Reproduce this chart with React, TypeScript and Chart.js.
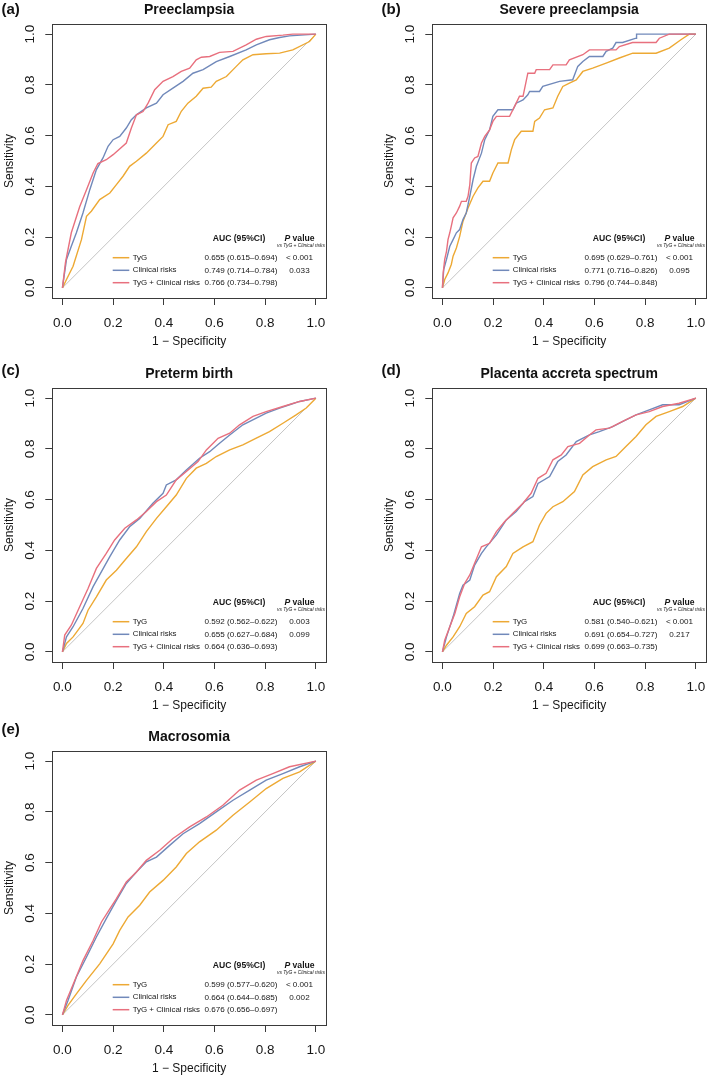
import { useEffect, useRef } from 'react';
import { Chart, registerables } from 'chart.js';

Chart.register(...registerables);

const FONT = '"Liberation Sans", Arial, Helvetica, sans-serif';
const TEXT = '#161616';

const AXIS_TICKS = [0, 0.2, 0.4, 0.6, 0.8, 1.0];
const SERIES_NAMES = ['TyG', 'Clinical risks', 'TyG + Clinical risks'];
const SERIES_COLORS = ['#EDA934', '#7189BA', '#E8707E'];
const X_TITLE = '1 \u2212 Specificity';
const Y_TITLE = 'Sensitivity';
const AUC_HEADER = 'AUC (95%CI)';
const P_SUB = 'vs TyG + Clinical risks';

const PANEL_LETTERS = ['(a)', '(b)', '(c)', '(d)', '(e)'];
const PANEL_TITLES = ['Preeclampsia', 'Severe preeclampsia', 'Preterm birth', 'Placenta accreta spectrum', 'Macrosomia'];

// ---- (a) Preeclampsia ----
const A_TYG_X = [0, 0.016, 0.042, 0.075, 0.095, 0.114, 0.147, 0.187, 0.213, 0.239, 0.265, 0.292, 0.331, 0.371, 0.397, 0.417, 0.449, 0.469, 0.495, 0.528, 0.555, 0.587, 0.607, 0.647, 0.686, 0.712, 0.752, 0.804, 0.857, 0.909, 0.975, 1];
const A_TYG_Y = [0, 0.033, 0.085, 0.19, 0.282, 0.302, 0.348, 0.374, 0.407, 0.44, 0.479, 0.499, 0.531, 0.571, 0.597, 0.643, 0.656, 0.696, 0.728, 0.755, 0.787, 0.791, 0.814, 0.833, 0.873, 0.899, 0.919, 0.923, 0.925, 0.938, 0.971, 1];
const A_CLIN_X = [0, 0.016, 0.035, 0.055, 0.081, 0.108, 0.134, 0.16, 0.18, 0.2, 0.226, 0.252, 0.272, 0.292, 0.331, 0.371, 0.397, 0.436, 0.476, 0.515, 0.555, 0.607, 0.66, 0.725, 0.765, 0.817, 0.857, 0.896, 1];
const A_CLIN_Y = [0, 0.112, 0.164, 0.217, 0.295, 0.387, 0.466, 0.512, 0.558, 0.584, 0.597, 0.63, 0.663, 0.682, 0.709, 0.728, 0.761, 0.787, 0.814, 0.846, 0.86, 0.892, 0.912, 0.938, 0.958, 0.978, 0.987, 0.993, 1];
const A_COMB_X = [0, 0.012, 0.035, 0.068, 0.095, 0.121, 0.14, 0.173, 0.2, 0.252, 0.272, 0.292, 0.318, 0.338, 0.364, 0.397, 0.436, 0.469, 0.502, 0.528, 0.548, 0.581, 0.62, 0.673, 0.725, 0.765, 0.804, 0.87, 0.909, 1];
const A_COMB_Y = [0, 0.1, 0.217, 0.32, 0.387, 0.453, 0.49, 0.505, 0.525, 0.571, 0.63, 0.682, 0.695, 0.728, 0.781, 0.814, 0.833, 0.853, 0.866, 0.899, 0.909, 0.912, 0.928, 0.932, 0.958, 0.98, 0.991, 0.996, 1, 1];
const A_AUC = ['0.655 (0.615\u20130.694)', '0.749 (0.714\u20130.784)', '0.766 (0.734\u20130.798)'];
const A_P = ['< 0.001', '0.033', ''];

// ---- (b) Severe preeclampsia ----
const B_TYG_X = [0, 0.009, 0.022, 0.035, 0.042, 0.055, 0.068, 0.081, 0.101, 0.121, 0.14, 0.16, 0.186, 0.199, 0.219, 0.259, 0.272, 0.285, 0.311, 0.357, 0.364, 0.383, 0.403, 0.436, 0.455, 0.475, 0.501, 0.528, 0.554, 0.593, 0.646, 0.698, 0.751, 0.843, 0.895, 0.941, 0.974, 1];
const B_TYG_Y = [0, 0.033, 0.059, 0.092, 0.125, 0.157, 0.203, 0.262, 0.315, 0.361, 0.394, 0.42, 0.42, 0.453, 0.492, 0.492, 0.545, 0.584, 0.617, 0.617, 0.656, 0.669, 0.702, 0.709, 0.755, 0.794, 0.807, 0.82, 0.853, 0.866, 0.886, 0.906, 0.925, 0.925, 0.945, 0.978, 1, 1];
const B_CLIN_X = [0, 0.005, 0.016, 0.029, 0.042, 0.055, 0.068, 0.081, 0.094, 0.108, 0.121, 0.134, 0.154, 0.167, 0.186, 0.199, 0.219, 0.278, 0.291, 0.318, 0.337, 0.344, 0.383, 0.396, 0.462, 0.514, 0.534, 0.554, 0.58, 0.633, 0.646, 0.672, 0.685, 0.711, 0.764, 0.766, 1];
const B_CLIN_Y = [0, 0.072, 0.112, 0.164, 0.19, 0.217, 0.23, 0.269, 0.295, 0.361, 0.427, 0.479, 0.531, 0.584, 0.623, 0.676, 0.702, 0.702, 0.728, 0.741, 0.761, 0.774, 0.774, 0.794, 0.814, 0.82, 0.873, 0.892, 0.912, 0.912, 0.932, 0.945, 0.967, 0.967, 0.984, 1, 1];
const B_COMB_X = [0, 0.003, 0.009, 0.016, 0.022, 0.029, 0.035, 0.042, 0.055, 0.068, 0.075, 0.094, 0.101, 0.108, 0.114, 0.127, 0.14, 0.154, 0.167, 0.186, 0.199, 0.213, 0.265, 0.278, 0.291, 0.304, 0.318, 0.337, 0.364, 0.37, 0.423, 0.436, 0.488, 0.501, 0.554, 0.58, 0.685, 0.698, 0.75, 0.843, 0.856, 0.895, 1];
const B_COMB_Y = [0, 0.059, 0.112, 0.144, 0.19, 0.217, 0.243, 0.276, 0.295, 0.322, 0.341, 0.341, 0.361, 0.407, 0.492, 0.512, 0.518, 0.571, 0.597, 0.623, 0.656, 0.676, 0.676, 0.702, 0.728, 0.755, 0.755, 0.846, 0.846, 0.86, 0.86, 0.879, 0.879, 0.899, 0.919, 0.938, 0.938, 0.951, 0.967, 0.967, 0.984, 1, 1];
const B_AUC = ['0.695 (0.629\u20130.761)', '0.771 (0.716\u20130.826)', '0.796 (0.744\u20130.848)'];
const B_P = ['< 0.001', '0.095', ''];

// ---- (c) Preterm birth ----
const C_TYG_X = [0, 0.016, 0.042, 0.081, 0.101, 0.134, 0.173, 0.213, 0.252, 0.292, 0.331, 0.371, 0.41, 0.449, 0.489, 0.528, 0.568, 0.607, 0.66, 0.712, 0.765, 0.817, 0.87, 0.922, 0.962, 1];
const C_TYG_Y = [0, 0.033, 0.059, 0.112, 0.164, 0.217, 0.283, 0.322, 0.368, 0.414, 0.474, 0.526, 0.572, 0.618, 0.684, 0.724, 0.743, 0.77, 0.796, 0.816, 0.842, 0.868, 0.901, 0.934, 0.961, 1];
const C_CLIN_X = [0, 0.016, 0.042, 0.081, 0.121, 0.154, 0.187, 0.226, 0.265, 0.305, 0.357, 0.397, 0.41, 0.449, 0.489, 0.541, 0.581, 0.62, 0.66, 0.712, 0.765, 0.804, 0.857, 0.896, 0.936, 1];
const C_CLIN_Y = [0, 0.059, 0.099, 0.171, 0.257, 0.316, 0.375, 0.441, 0.493, 0.526, 0.586, 0.625, 0.658, 0.678, 0.717, 0.763, 0.789, 0.822, 0.855, 0.895, 0.921, 0.941, 0.961, 0.974, 0.987, 1];
const C_COMB_X = [0, 0.009, 0.035, 0.068, 0.101, 0.134, 0.173, 0.206, 0.246, 0.292, 0.331, 0.371, 0.41, 0.449, 0.489, 0.535, 0.568, 0.614, 0.66, 0.699, 0.752, 0.804, 0.87, 0.936, 1];
const C_COMB_Y = [0, 0.066, 0.105, 0.178, 0.25, 0.329, 0.388, 0.441, 0.487, 0.52, 0.553, 0.592, 0.618, 0.678, 0.711, 0.75, 0.796, 0.842, 0.862, 0.895, 0.928, 0.947, 0.967, 0.987, 1];
const C_AUC = ['0.592 (0.562\u20130.622)', '0.655 (0.627\u20130.684)', '0.664 (0.636\u20130.693)'];
const C_P = ['0.003', '0.099', ''];

// ---- (d) Placenta accreta spectrum ----
const D_TYG_X = [0, 0.016, 0.042, 0.068, 0.094, 0.127, 0.16, 0.186, 0.213, 0.252, 0.278, 0.318, 0.357, 0.383, 0.409, 0.436, 0.475, 0.521, 0.554, 0.593, 0.646, 0.685, 0.724, 0.764, 0.803, 0.843, 0.895, 0.948, 1];
const D_TYG_Y = [0, 0.026, 0.059, 0.099, 0.151, 0.178, 0.224, 0.237, 0.296, 0.336, 0.388, 0.414, 0.434, 0.5, 0.546, 0.572, 0.592, 0.632, 0.697, 0.73, 0.757, 0.77, 0.809, 0.849, 0.895, 0.928, 0.947, 0.967, 1];
const D_CLIN_X = [0, 0.016, 0.042, 0.068, 0.081, 0.108, 0.127, 0.154, 0.173, 0.213, 0.252, 0.291, 0.324, 0.357, 0.377, 0.423, 0.455, 0.488, 0.528, 0.58, 0.619, 0.672, 0.724, 0.764, 0.816, 0.869, 0.934, 1];
const D_CLIN_Y = [0, 0.059, 0.138, 0.23, 0.263, 0.283, 0.342, 0.388, 0.414, 0.461, 0.52, 0.553, 0.592, 0.612, 0.664, 0.691, 0.75, 0.776, 0.829, 0.855, 0.868, 0.888, 0.914, 0.934, 0.954, 0.974, 0.974, 1];
const D_COMB_X = [0, 0.009, 0.029, 0.049, 0.068, 0.088, 0.108, 0.127, 0.154, 0.186, 0.213, 0.245, 0.278, 0.318, 0.35, 0.377, 0.409, 0.436, 0.469, 0.495, 0.541, 0.58, 0.606, 0.659, 0.711, 0.764, 0.816, 0.869, 0.934, 1];
const D_COMB_Y = [0, 0.046, 0.099, 0.151, 0.217, 0.27, 0.303, 0.349, 0.414, 0.428, 0.474, 0.513, 0.546, 0.586, 0.625, 0.684, 0.704, 0.757, 0.776, 0.809, 0.822, 0.855, 0.875, 0.882, 0.908, 0.934, 0.947, 0.967, 0.98, 1];
const D_AUC = ['0.581 (0.540\u20130.621)', '0.691 (0.654\u20130.727)', '0.699 (0.663\u20130.735)'];
const D_P = ['< 0.001', '0.217', ''];

// ---- (e) Macrosomia ----
const E_TYG_X = [0, 0.022, 0.055, 0.095, 0.147, 0.2, 0.226, 0.259, 0.305, 0.344, 0.397, 0.449, 0.489, 0.541, 0.607, 0.673, 0.739, 0.804, 0.87, 0.936, 1];
const E_TYG_Y = [0, 0.037, 0.083, 0.136, 0.201, 0.28, 0.333, 0.386, 0.432, 0.484, 0.53, 0.583, 0.636, 0.682, 0.728, 0.787, 0.839, 0.892, 0.932, 0.958, 1];
const E_CLIN_X = [0, 0.022, 0.055, 0.095, 0.134, 0.173, 0.213, 0.252, 0.292, 0.331, 0.371, 0.423, 0.476, 0.541, 0.607, 0.673, 0.739, 0.804, 0.87, 0.936, 1];
const E_CLIN_Y = [0, 0.057, 0.149, 0.228, 0.307, 0.379, 0.451, 0.518, 0.563, 0.603, 0.622, 0.668, 0.714, 0.754, 0.8, 0.846, 0.886, 0.925, 0.951, 0.978, 1];
const E_COMB_X = [0, 0.016, 0.049, 0.081, 0.121, 0.154, 0.187, 0.213, 0.252, 0.292, 0.331, 0.384, 0.436, 0.502, 0.568, 0.633, 0.699, 0.765, 0.83, 0.896, 1];
const E_COMB_Y = [0, 0.057, 0.136, 0.214, 0.293, 0.366, 0.418, 0.458, 0.524, 0.563, 0.609, 0.649, 0.695, 0.741, 0.78, 0.826, 0.886, 0.925, 0.951, 0.978, 1];
const E_AUC = ['0.599 (0.577\u20130.620)', '0.664 (0.644\u20130.685)', '0.676 (0.656\u20130.697)'];
const E_P = ['< 0.001', '0.002', ''];

// layout (pixels) of each panel canvas on the page
const CANVAS_W = 329;
const CANVAS_H = 362;
const TOP_PAD = 34;
const PANEL_POS = [
  { left: 0, top: -10, letterY: 20.3 },
  { left: 380, top: -10, letterY: 20.3 },
  { left: 0, top: 354, letterY: 17 },
  { left: 380, top: 354, letterY: 17 },
  { left: 0, top: 717, letterY: 13 },
];

const PANELS = [
  { curves: [[A_TYG_X, A_TYG_Y], [A_CLIN_X, A_CLIN_Y], [A_COMB_X, A_COMB_Y]], auc: A_AUC, p: A_P },
  { curves: [[B_TYG_X, B_TYG_Y], [B_CLIN_X, B_CLIN_Y], [B_COMB_X, B_COMB_Y]], auc: B_AUC, p: B_P },
  { curves: [[C_TYG_X, C_TYG_Y], [C_CLIN_X, C_CLIN_Y], [C_COMB_X, C_COMB_Y]], auc: C_AUC, p: C_P },
  { curves: [[D_TYG_X, D_TYG_Y], [D_CLIN_X, D_CLIN_Y], [D_COMB_X, D_COMB_Y]], auc: D_AUC, p: D_P },
  { curves: [[E_TYG_X, E_TYG_Y], [E_CLIN_X, E_CLIN_Y], [E_COMB_X, E_COMB_Y]], auc: E_AUC, p: E_P },
];

function axisOptions(kind: 'x' | 'y') {
  const isX = kind === 'x';
  return {
    type: 'linear',
    min: -0.04,
    max: 1.04,
    afterBuildTicks: (scale: any) => {
      scale.ticks = AXIS_TICKS.map((v) => ({ value: v }));
    },
    afterFit: (scale: any) => {
      if (isX) scale.height = 54;
      else scale.width = 52.3;
      scale.paddingLeft = 0;
      scale.paddingRight = 0;
      scale.paddingTop = 0;
      scale.paddingBottom = 0;
    },
    border: { display: false },
    grid: {
      display: true,
      drawOnChartArea: false,
      drawTicks: true,
      tickLength: 7,
      color: '#3a3a3a',
      lineWidth: 1,
    },
    ticks: {
      color: TEXT,
      font: { family: FONT, size: 13.5 },
      padding: isX ? 10 : 6,
      minRotation: isX ? 0 : 90,
      maxRotation: isX ? 0 : 90,
      crossAlign: isX ? 'near' : 'center',
      callback: (v: any) => Number(v).toFixed(1),
    },
    title: {
      display: true,
      text: isX ? X_TITLE : Y_TITLE,
      color: TEXT,
      font: { family: FONT, size: 12 },
      padding: isX ? { top: 0, bottom: 3 } : { top: 2.5, bottom: 0 },
    },
  };
}

function RocPanel({ index }: { index: number }) {
  const ref = useRef<HTMLCanvasElement | null>(null);
  const panel = PANELS[index];
  const pos = PANEL_POS[index];

  useEffect(() => {
    const canvas = ref.current;
    if (!canvas) return;

    const curveSets = panel.curves.map(([xs, ys], i) => ({
      label: SERIES_NAMES[i],
      data: xs.map((x, j) => ({ x, y: ys[j] })),
      borderColor: SERIES_COLORS[i],
      backgroundColor: SERIES_COLORS[i],
      borderWidth: 1.4,
      order: 2 - i,
    }));
    const datasets = [
      {
        label: 'Chance',
        data: [{ x: 0, y: 0 }, { x: 1, y: 1 }],
        borderColor: '#bdbdbd',
        backgroundColor: '#bdbdbd',
        borderWidth: 0.9,
        order: 5,
      },
      ...curveSets,
    ].map((d) => ({ ...d, showLine: true, pointRadius: 0, pointHoverRadius: 0, fill: false, tension: 0 }));

    const decor = {
      id: 'rocDecor',
      afterDraw(chart: any) {
        const { ctx, chartArea: a } = chart;
        ctx.save();
        // frame
        ctx.strokeStyle = '#3a3a3a';
        ctx.lineWidth = 1;
        ctx.strokeRect(Math.round(a.left) + 0.5, Math.round(a.top) + 0.5, Math.round(a.right - a.left), Math.round(a.bottom - a.top));

        // panel letter and title
        ctx.fillStyle = '#111';
        ctx.textBaseline = 'middle';
        ctx.textAlign = 'left';
        ctx.font = `bold 15px ${FONT}`;
        ctx.fillText(PANEL_LETTERS[index], 1.5, pos.letterY);
        ctx.textAlign = 'center';
        ctx.font = `bold 14px ${FONT}`;
        ctx.fillText(PANEL_TITLES[index], (a.left + a.right) / 2, a.top - 14);

        // legend table
        const R = a.right;
        const B = a.bottom;
        const aucCenter = R - 87;
        const pCenter = R - 26.5;
        ctx.fillStyle = TEXT;
        ctx.font = `bold 8.6px ${FONT}`;
        ctx.fillText(AUC_HEADER, aucCenter, B - 59);
        ctx.font = `italic bold 8.6px ${FONT}`;
        const pW = ctx.measureText('P').width;
        ctx.font = `bold 8.6px ${FONT}`;
        const vW = ctx.measureText(' value').width;
        const pStart = pCenter - (pW + vW) / 2;
        ctx.textAlign = 'left';
        ctx.font = `italic bold 8.6px ${FONT}`;
        ctx.fillText('P', pStart, B - 59);
        ctx.font = `bold 8.6px ${FONT}`;
        ctx.fillText(' value', pStart + pW, B - 59);
        ctx.textAlign = 'center';
        ctx.font = `italic 4.9px ${FONT}`;
        ctx.fillText(P_SUB, R - 25, B - 52);

        const rowY = [B - 40.3, B - 27.7, B - 15.3];
        for (let i = 0; i < 3; i++) {
          const y = rowY[i];
          ctx.strokeStyle = SERIES_COLORS[i];
          ctx.lineWidth = 1.5;
          ctx.beginPath();
          ctx.moveTo(R - 213.3, y);
          ctx.lineTo(R - 196.7, y);
          ctx.stroke();
          ctx.fillStyle = TEXT;
          ctx.font = `7.9px ${FONT}`;
          ctx.textAlign = 'left';
          ctx.fillText(SERIES_NAMES[i], R - 193.3, y);
          ctx.font = `8.1px ${FONT}`;
          ctx.textAlign = 'right';
          ctx.fillText(panel.auc[i], R - 48.5, y);
          ctx.textAlign = 'center';
          if (panel.p[i]) ctx.fillText(panel.p[i], pCenter, y);
        }
        ctx.restore();
      },
    };

    const chart = new Chart(canvas, {
      type: 'scatter',
      data: { datasets } as any,
      options: {
        responsive: false,
        maintainAspectRatio: false,
        animation: false,
        devicePixelRatio: 1,
        events: [],
        layout: { padding: { top: TOP_PAD, right: 3, left: 0, bottom: 0 } },
        plugins: {
          legend: { display: false },
          tooltip: { enabled: false },
          title: { display: false },
        },
        scales: { x: axisOptions('x'), y: axisOptions('y') } as any,
      },
      plugins: [decor],
    });
    return () => chart.destroy();
  }, [index]);

  return (
    <canvas
      ref={ref}
      width={CANVAS_W}
      height={CANVAS_H}
      style={{ position: 'absolute', left: pos.left, top: pos.top, width: CANVAS_W, height: CANVAS_H }}
    />
  );
}

export default function App() {
  return (
    <div style={{ position: 'absolute', left: 0, top: 0, width: 709, height: 1079, background: '#ffffff', overflow: 'hidden' }}>
      {PANELS.map((_, i) => (
        <RocPanel key={i} index={i} />
      ))}
    </div>
  );
}
